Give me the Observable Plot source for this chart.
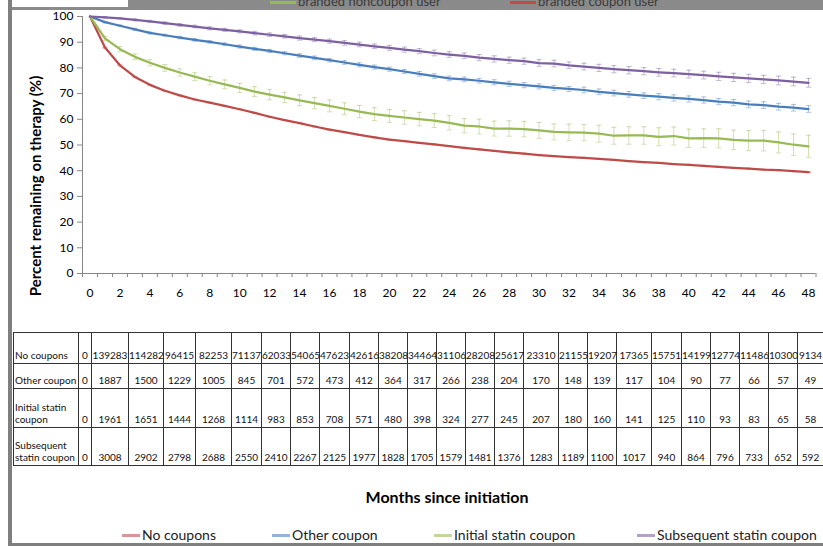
<!DOCTYPE html>
<html><head><meta charset="utf-8">
<script src="https://cdn.jsdelivr.net/npm/d3@7"></script>
<script src="https://cdn.jsdelivr.net/npm/@observablehq/plot@0.6"></script>
<style>
body{margin:0;background:#fff;font-family:Lato,"Open Sans",sans-serif;}
#wrap{position:relative;width:823px;height:546px;overflow:hidden;background:#fff;}
#chart{position:absolute;left:0;top:0;}
.abs{position:absolute;}
table.dt{position:absolute;left:13px;top:332px;border-collapse:collapse;table-layout:fixed;font-size:10px;color:#111;}
table.dt td{border:1px solid #333;padding:0 0 2px 0;text-align:center;vertical-align:bottom;line-height:12px;white-space:nowrap;overflow:visible;}
table.dt td.lab{text-align:left;white-space:normal;padding-left:1px;}
.leg{position:absolute;top:526px;font-size:14px;color:#222;white-space:nowrap;line-height:18px;}
.sw{display:inline-block;width:18px;height:2.5px;vertical-align:middle;margin-right:2px;position:relative;top:-1px;}
</style></head>
<body>
<div id="wrap">
  <div id="chart"></div>
</div>
<script>
// ---- data ----
const months = d3.range(0, 49);
const seriesNames = ["No coupons", "Other coupon", "Initial statin coupon", "Subsequent statin coupon"];
const seriesColors = ["#be4b48", "#4a7ebb", "#98b954", "#7d60a0"];
const legendColors = ["#d99694", "#95b3d7", "#c3d69b", "#b3a2c7"];

const noCoupons = [100,87.9,81.0,76.5,73.4,71.1,69.3,67.7,66.5,65.2,63.9,62.5,61.0,59.7,58.5,57.2,56.0,55.0,53.9,53.0,52.1,51.5,50.8,50.2,49.6,48.9,48.3,47.7,47.1,46.6,46.1,45.7,45.3,45.0,44.6,44.2,43.7,43.3,43.0,42.6,42.3,41.9,41.5,41.1,40.8,40.4,40.2,39.8,39.4];
const otherCoupon = [100,97.8,96.4,95.0,93.6,92.7,91.8,90.9,90.1,89.2,88.3,87.4,86.6,85.7,84.8,83.9,83.0,82.1,81.2,80.3,79.5,78.6,77.7,76.8,75.9,75.5,75.0,74.4,73.8,73.3,72.8,72.2,71.8,71.4,70.7,70.2,69.7,69.2,68.8,68.3,67.9,67.5,66.9,66.5,65.8,65.5,64.9,64.5,64.0];
const initialStatin = [100,91.5,87.3,84.3,82.0,80.0,78.2,76.6,75.0,73.6,72.2,70.8,69.6,68.5,67.4,66.3,65.2,64.1,63.0,62.0,61.3,60.7,60.1,59.5,58.6,57.5,57.2,56.4,56.4,56.2,55.7,55.1,54.9,54.8,54.4,53.6,53.7,53.7,53.2,53.5,52.6,52.7,52.6,52.0,51.7,51.7,51.0,50.1,49.5];
const subsequentStatin = [100,99.7,99.3,98.7,98.1,97.4,96.7,96.1,95.4,94.8,94.2,93.5,92.9,92.3,91.6,91.0,90.4,89.7,89.1,88.4,87.8,87.1,86.5,85.8,85.2,84.7,84.0,83.5,83.0,82.6,81.9,81.7,81.0,80.5,80.0,79.5,79.1,78.7,78.3,78.0,77.6,77.2,76.7,76.3,75.9,75.5,75.1,74.7,74.2];

// error bar half-widths (percentage points)
const noCouponsErr = [0,0.2,0.2,0.2,0.2,0.2,0.2,0.2,0.2,0.2,0.2,0.2,0.2,0.2,0.2,0.2,0.2,0.2,0.2,0.2,0.2,0.2,0.2,0.2,0.2,0.2,0.2,0.2,0.2,0.2,0.2,0.2,0.2,0.2,0.2,0.2,0.2,0.2,0.2,0.2,0.2,0.2,0.2,0.2,0.2,0.2,0.2,0.2,0.2];
const otherCouponErr = [0,0.3,0.3,0.4,0.4,0.4,0.5,0.5,0.5,0.5,0.6,0.6,0.6,0.6,0.7,0.7,0.7,0.7,0.8,0.8,0.8,0.8,0.9,0.9,0.9,0.9,0.9,1.0,1.0,1.0,1.0,1.0,1.0,1.1,1.1,1.1,1.1,1.1,1.2,1.2,1.2,1.2,1.2,1.2,1.3,1.3,1.3,1.3,1.3];
const initialStatinErr = [0,0.8,1.0,1.1,1.2,1.3,1.4,1.5,1.6,1.7,1.8,1.9,2.0,2.0,2.1,2.2,2.3,2.3,2.4,2.5,2.5,2.6,2.6,2.7,2.8,2.8,2.9,2.9,3.0,3.0,3.1,3.1,3.2,3.2,3.3,3.3,3.4,3.4,3.5,3.5,3.6,3.6,3.7,3.8,3.9,4.0,4.1,4.2,4.3];
const subsequentStatinErr = [0,0.3,0.3,0.4,0.4,0.5,0.5,0.5,0.6,0.6,0.6,0.7,0.7,0.7,0.8,0.8,0.8,0.9,0.9,0.9,1.0,1.0,1.0,1.1,1.1,1.1,1.2,1.2,1.2,1.2,1.3,1.3,1.3,1.3,1.4,1.4,1.4,1.4,1.5,1.5,1.5,1.5,1.6,1.6,1.6,1.6,1.7,1.7,1.7];

const yTicks = [0,10,20,30,40,50,60,70,80,90,100];
const xLabelTicks = [0,2,4,6,8,10,12,14,16,18,20,22,24,26,28,30,32,34,36,38,40,42,44,46,48];

// data table (patients at risk)
const tableNoCoupons = [0,139283,114282,96415,82253,71137,62033,54065,47623,42616,38208,34464,31106,28208,25617,23310,21155,19207,17365,15751,14199,12774,11486,10300,9134];
const tableOtherCoupon = [0,1887,1500,1229,1005,845,701,572,473,412,364,317,266,238,204,170,148,139,117,104,90,77,66,57,49];
const tableInitialStatin = [0,1961,1651,1444,1268,1114,983,853,708,571,480,398,324,277,245,207,180,160,141,125,110,93,83,65,58];
const tableSubsequentStatin = [0,3008,2902,2798,2688,2550,2410,2267,2125,1977,1828,1705,1579,1481,1376,1283,1189,1100,1017,940,864,796,733,652,592];
const tableRowLabels = ["No coupons", "Other coupon", "Initial statin<br>coupon", "Subsequent<br>statin coupon"];

// ---- layout (not data) ----
const tableColWidths = [65,13,37,35,32,36,30,29,29,30,29,29,29,29,29,29,35,29,29,35,30,29,29,29,29,26];
const tableRowHeights = [31,25,39,38];
const legendLeft = [122,272,434,637];

// ---- build chart ----
const values = [noCoupons, otherCoupon, initialStatin, subsequentStatin];
const errs = [noCouponsErr, otherCouponErr, initialStatinErr, subsequentStatinErr];
const rows = seriesNames.flatMap((s, k) => months.map((m, i) => ({series: s, month: m, value: values[k][i], err: errs[k][i]})));
const barRows = rows.filter(d => d.month > 0);
const xBoundaries = d3.range(-0.5, 49, 1);

const plot = Plot.plot({
  width: 823, height: 320,
  marginTop: 16, marginBottom: 47, marginLeft: 82, marginRight: 7.5,
  x: {domain: [-0.5, 48.5]},
  y: {domain: [0, 100]},
  color: {domain: seriesNames, range: seriesColors},
  style: {fontFamily: "Lato, 'Open Sans', sans-serif", fontSize: "12px", color: "#000", background: "transparent"},
  marks: [
    Plot.ruleX(barRows, {x: "month", y1: d => d.value - d.err, y2: d => d.value + d.err, stroke: "series", strokeOpacity: 0.45, strokeWidth: 1}),
    Plot.link(barRows, {x1: d => d.month - 0.17, x2: d => d.month + 0.17, y1: d => d.value + d.err, y2: d => d.value + d.err, stroke: "series", strokeOpacity: 0.45}),
    Plot.link(barRows, {x1: d => d.month - 0.17, x2: d => d.month + 0.17, y1: d => d.value - d.err, y2: d => d.value - d.err, stroke: "series", strokeOpacity: 0.45}),
    Plot.line(rows, {x: "month", y: "value", z: "series", stroke: "series", strokeWidth: 2.25, strokeLinejoin: "round"}),
    Plot.ruleY([0], {stroke: "#868686"}),
    Plot.ruleX([-0.5], {stroke: "#868686"}),
    Plot.axisY({ticks: yTicks, tickSize: 5, tickPadding: 4, stroke: "#868686", fill: "#000", label: null}),
    Plot.axisX({ticks: xBoundaries, tickSize: 4, tickFormat: () => "", stroke: "#868686", label: null}),
    Plot.axisX({ticks: xLabelTicks, tickSize: 0, tickPadding: 15, fill: "#000", label: null})
  ]
});
document.getElementById("chart").appendChild(plot);

const wrap = document.getElementById("wrap");
function addDiv(html, css, cls) {
  const el = document.createElement("div");
  el.className = "abs" + (cls ? " " + cls : "");
  el.style.cssText = css;
  el.innerHTML = html;
  wrap.appendChild(el);
  return el;
}

// frame pieces
addDiv("", "left:128px;top:0;width:695px;height:10px;background:#8a8a8a;");
addDiv("", "left:10px;top:7px;width:118px;height:3px;background:#8a8a8a;");
addDiv("", "left:8px;top:0;width:4px;height:546px;background:#7f7f7f;");
addDiv("", "left:8px;top:543px;width:815px;height:3px;background:#7f7f7f;");
// cut-off old legend at top (partly hidden above the picture, as in the source)
addDiv('<span style="display:inline-block;width:26px;height:3px;background:#98b954;vertical-align:middle;margin-right:2px"></span>branded noncoupon user', "left:270px;top:-7px;font-size:13px;color:#3a3a3a;white-space:nowrap;line-height:16px;");
addDiv('<span style="display:inline-block;width:26px;height:3px;background:#be4b48;vertical-align:middle;margin-right:2px"></span>branded coupon user', "left:510px;top:-7px;font-size:13px;color:#3a3a3a;white-space:nowrap;line-height:16px;");

// y axis title
addDiv("Percent remaining on therapy (%)", "left:35px;top:186px;transform:translate(-50%,-50%) rotate(-90deg);font-weight:bold;font-size:15px;white-space:nowrap;color:#000;");

// data table
const table = document.createElement("table");
table.className = "dt";
table.style.width = d3.sum(tableColWidths) + "px";
const cg = document.createElement("colgroup");
tableColWidths.forEach(w => { const c = document.createElement("col"); c.style.width = w + "px"; cg.appendChild(c); });
table.appendChild(cg);
const tableData = [tableNoCoupons, tableOtherCoupon, tableInitialStatin, tableSubsequentStatin];
tableData.forEach((arr, r) => {
  const tr = document.createElement("tr");
  tr.style.height = tableRowHeights[r] + "px";
  const th = document.createElement("td"); th.className = "lab"; th.innerHTML = tableRowLabels[r]; tr.appendChild(th);
  arr.forEach(v => { const td = document.createElement("td"); td.textContent = v; tr.appendChild(td); });
  table.appendChild(tr);
});
wrap.appendChild(table);

// x axis title
addDiv("Months since initiation", "left:447px;top:487px;transform:translateX(-50%);font-weight:bold;font-size:16px;white-space:nowrap;color:#000;");

// bottom legend
seriesNames.forEach((s, i) => {
  addDiv('<span class="sw" style="background:' + legendColors[i] + '"></span>' + s, "left:" + legendLeft[i] + "px;", "leg");
});
</script>
</body></html>
